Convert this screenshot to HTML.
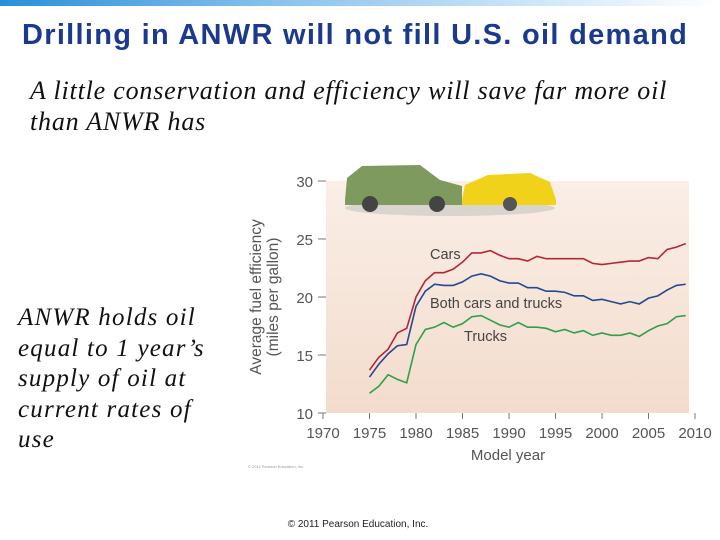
<!DOCTYPE html>
<html><head><meta charset="utf-8">
<style>
body{margin:0;width:720px;height:540px;background:#fff;position:relative;overflow:hidden;font-family:"Liberation Sans",sans-serif}
.bar{position:absolute;left:0;top:0;width:720px;height:6px;background:linear-gradient(90deg,#2a8fd8,#8cc4ee 40%,#fff)}
h1{position:absolute;left:22px;top:19px;margin:0;font-size:29px;letter-spacing:1.3px;font-weight:bold;color:#1b3a8e;white-space:nowrap}
.it{position:absolute;font-family:"Liberation Serif",serif;font-style:italic;color:#111;white-space:nowrap}
</style></head><body>
<div class="bar"></div>
<h1>Drilling in ANWR will not fill U.S. oil demand</h1>
<div class="it" style="left:30px;top:75px;font-size:26px;letter-spacing:0.8px;line-height:31px">A little conservation and efficiency will save far more oil<br>than ANWR has</div>
<div class="it" style="left:18px;top:303px;font-size:25px;letter-spacing:1.2px;line-height:30.5px">ANWR holds oil<br>equal to 1 year’s<br>supply of oil at<br>current rates of<br>use</div>
<div style="position:absolute;left:0;width:716px;text-align:center;top:519px;font-size:10px;color:#222">© 2011 Pearson Education, Inc.</div>
<svg id="chart" width="720" height="540" style="position:absolute;left:0;top:0">
<defs><linearGradient id="bg" x1="0" y1="0" x2="0" y2="1"><stop offset="0" stop-color="#faeee6"/><stop offset="1" stop-color="#f3dccd"/></linearGradient></defs>
</svg>
<script>
const years=[1975,1976,1977,1978,1979,1980,1981,1982,1983,1984,1985,1986,1987,1988,1989,1990,1991,1992,1993,1994,1995,1996,1997,1998,1999,2000,2001,2002,2003,2004,2005,2006,2007,2008,2009];
const cars=[13.7,14.8,15.5,16.9,17.3,20.0,21.4,22.1,22.1,22.4,23.0,23.8,23.8,24.0,23.6,23.3,23.3,23.1,23.5,23.3,23.3,23.3,23.3,23.3,22.9,22.8,22.9,23.0,23.1,23.1,23.4,23.3,24.1,24.3,24.6];
const both=[13.1,14.2,15.1,15.8,15.9,19.2,20.5,21.1,21.0,21.0,21.3,21.8,22.0,21.8,21.4,21.2,21.2,20.8,20.8,20.5,20.5,20.4,20.1,20.1,19.7,19.8,19.6,19.4,19.6,19.4,19.9,20.1,20.6,21.0,21.1];
const trucks=[11.7,12.3,13.3,12.9,12.6,15.9,17.2,17.4,17.8,17.4,17.7,18.3,18.4,18.0,17.6,17.4,17.8,17.4,17.4,17.3,17.0,17.2,16.9,17.1,16.7,16.9,16.7,16.7,16.9,16.6,17.1,17.5,17.7,18.3,18.4];
const xTicks=[1970,1975,1980,1985,1990,1995,2000,2005,2010];
const yTicks=[10,15,20,25,30];
const svg=document.getElementById('chart');const NS='http://www.w3.org/2000/svg';
const X=v=>323+(v-1970)*9.3;const Y=v=>413-(v-10)*11.6;
function mk(t,a,txt){const e=document.createElementNS(NS,t);for(const k in a)e.setAttribute(k,a[k]);if(txt!==undefined)e.textContent=txt;svg.appendChild(e);return e;}
let e=mk('rect',{x:326,y:Y(30),width:363,height:Y(10)-Y(30),fill:'url(#bg)'});


yTicks.forEach(t=>{let l=mk('text',{x:313,y:Y(t)+6,'text-anchor':'end','font-size':15,fill:'#555'},t);


let m=mk('line',{x1:318,x2:326,y1:Y(t),y2:Y(t),stroke:'#777','stroke-width':1});

});
xTicks.forEach(t=>{let l=mk('text',{x:X(t),y:438,'text-anchor':'middle','font-size':15,fill:'#555'},t);


let m=mk('line',{x1:X(t),x2:X(t),y1:413,y2:419,stroke:'#777','stroke-width':1});

});
e=mk('text',{x:508,y:460,'text-anchor':'middle','font-size':15,fill:'#555'},'Model year');


e=mk('text',{x:0,y:0,'text-anchor':'middle','font-size':15.5,fill:'#555',transform:'translate(262,297) rotate(-90)'});


['Average fuel efficiency','(miles per gallon)'].forEach((s,i)=>{const ts=document.createElementNS(NS,'tspan');ts.setAttribute('x',0);ts.setAttribute('y',i*17-1);ts.textContent=s;e.appendChild(ts);});
[[cars,'#b2273a','cars-line'],[both,'#24498f','both-line'],[trucks,'#2f9f4a','trucks-line']].forEach(([d,c,n])=>{
const p=mk('polyline',{points:d.map((v,i)=>X(years[i])+','+Y(v)).join(' '),fill:'none',stroke:c,'stroke-width':1.6});

});
[['Cars',430,259,'cars-label'],['Both cars and trucks',430,308,'both-label'],['Trucks',464,341,'trucks-label']].forEach(([s,x,y,n])=>{
const t=mk('text',{x:x,y:y,'font-size':14.5,fill:'#444'},s);

});
e=mk('ellipse',{cx:450,cy:208,rx:105,ry:8,fill:'#bbb',opacity:0.5});


e=mk('path',{d:'M345 200 L347 178 L362 166 L420 165 L440 180 L462 186 L462 205 L345 205 Z',fill:'#7f9a5e'});


mk('circle',{cx:370,cy:204,r:8,fill:'#444'});mk('circle',{cx:437,cy:204,r:8,fill:'#444'});
e=mk('path',{d:'M462 200 L465 185 L488 175 L530 173 L550 182 L556 200 L556 205 L462 205 Z',fill:'#f0d21a'});


mk('circle',{cx:510,cy:204,r:7,fill:'#555'});
e=mk('text',{x:248,y:468,'font-size':4,fill:'#999'},'© 2011 Pearson Education, Inc.');


</script>
</body></html>
